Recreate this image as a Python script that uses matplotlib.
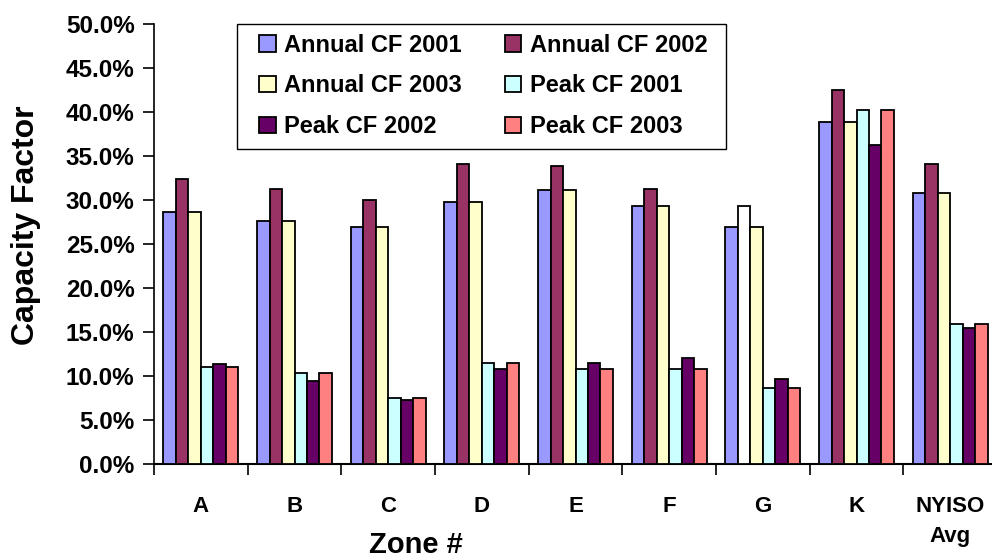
import matplotlib
matplotlib.use("Agg")
import matplotlib.pyplot as plt
import numpy as np
from matplotlib.patches import Patch, Rectangle
from matplotlib.ticker import FuncFormatter, FixedLocator

plt.rcParams['font.family'] = ['Liberation Sans', 'DejaVu Sans']
plt.rcParams['font.weight'] = 'bold'

zones = ["A", "B", "C", "D", "E", "F", "G", "K", "NYISO\nAvg"]
series_names = ["Annual CF 2001", "Annual CF 2002", "Annual CF 2003",
                "Peak CF 2001", "Peak CF 2002", "Peak CF 2003"]
annual_2001 = [28.6, 27.6, 26.9, 29.8, 31.2, 29.3, 26.9, 38.9, 30.8]
annual_2002 = [32.4, 31.25, 30.0, 34.1, 33.9, 31.25, 29.3, 42.5, 34.1]
annual_2003 = [28.6, 27.6, 26.9, 29.8, 31.2, 29.3, 26.9, 38.9, 30.8]
peak_2001 = [11.0, 10.3, 7.5, 11.5, 10.8, 10.8, 8.65, 40.2, 15.9]
peak_2002 = [11.3, 9.4, 7.2, 10.8, 11.5, 12.0, 9.6, 36.3, 15.4]
peak_2003 = [11.0, 10.3, 7.5, 11.5, 10.8, 10.8, 8.65, 40.2, 15.9]
all_series = [annual_2001, annual_2002, annual_2003, peak_2001, peak_2002, peak_2003]
colors = ["#9999FF", "#993366", "#FFFFCC", "#CCFFFF", "#660066", "#FF8080"]

W, H = 992, 558
fig = plt.figure(figsize=(W / 100, H / 100), dpi=100)
left, right, top, bottom = 154, 997, 24.3, 463.7
ax = fig.add_axes([left / W, 1 - bottom / H, (right - left) / W, (bottom - top) / H])

x = np.arange(len(zones))
n = len(all_series)
bw = 0.8 / n
for i, (vals, c) in enumerate(zip(all_series, colors)):
    bars = ax.bar(x - 0.4 + bw * (i + 0.5), vals, width=bw, color=c,
                  edgecolor="black", linewidth=1.3, zorder=3)
    if i == 1:
        bars[6].set_facecolor("white")

ax.set_xlim(-0.5, len(zones) - 0.5)
ax.set_ylim(0, 50)
ax.set_yticks(np.arange(0, 50.1, 5))
ax.yaxis.set_major_formatter(FuncFormatter(lambda v, p: f"{v:.1f}%"))
ax.tick_params(axis="y", direction="out", length=8, width=1.2, pad=6, labelsize=17.5)

ax.set_xticks(x)
ax.set_xticklabels(zones)
ax.xaxis.set_minor_locator(FixedLocator(np.arange(-0.5, len(zones), 1.0)))
ax.tick_params(axis="x", which="major", length=0, pad=23)
ax.tick_params(axis="x", which="minor", direction="out", length=8, width=1.2)
for lab in ax.get_xticklabels():
    lab.set_fontsize(16)
    lab.set_fontweight("bold")
    lab.set_linespacing(1.6)

for s in ["top", "right"]:
    ax.spines[s].set_visible(False)
ax.spines["left"].set_linewidth(1.2)
ax.spines["bottom"].set_linewidth(1.5)

fig.text(26 / W, 1 - 225 / H, "Capacity Factor", rotation=90, ha="center", va="center",
         fontsize=23, fontweight="bold")
fig.text(415.5 / W, 1 - 545 / H, "Zone #", ha="center", va="center",
         fontsize=21, fontweight="bold")

# legend frame drawn at its position in the reference
fig.patches.append(Rectangle((236.7 / W, 1 - 149 / H), (725.7 - 236.7) / W, (149 - 24.3) / H,
                             transform=fig.transFigure, facecolor="white",
                             edgecolor="black", linewidth=1.0, zorder=5))

handles = [Patch(facecolor=c, edgecolor="black", linewidth=1.3) for c in colors]
order = [0, 2, 4, 1, 3, 5]
leg = fig.legend([handles[i] for i in order], [series_names[i] for i in order],
                 ncol=2, loc="upper left", bbox_to_anchor=(259 / W, 1 - 33.5 / H),
                 frameon=False, prop={"size": 17, "weight": "bold"},
                 handlelength=0.7, handleheight=0.7, handletextpad=0.35,
                 columnspacing=1.83, labelspacing=0.76, borderpad=0,
                 borderaxespad=0)
leg.set_zorder(6)

fig.savefig("out.png", dpi=100)
